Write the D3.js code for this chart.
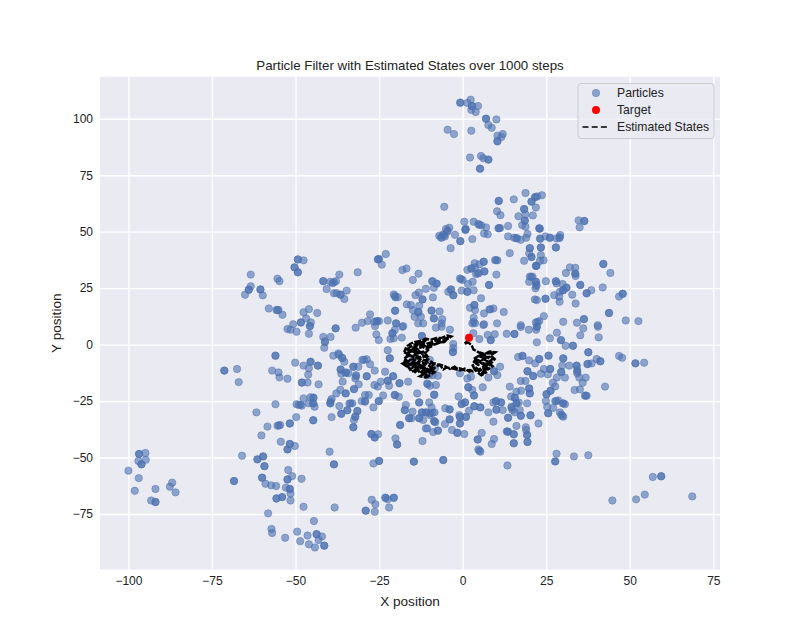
<!DOCTYPE html>
<html>
<head>
<meta charset="utf-8">
<script src="https://cdnjs.cloudflare.com/ajax/libs/d3/7.8.5/d3.min.js"></script>
<style>
	html, body { margin: 0; padding: 0; background: #fff; }
	svg { display: block; }
	text { font-family: "Liberation Sans", Arial, sans-serif; fill: #222; }
</style>
</head>
<body>
<script>
const xTicks = [-100, -75, -50, -25, 0, 25, 50, 75];
const yTicks = [-75, -50, -25, 0, 25, 50, 75, 100];
const xDomain = [-108.5, 77];
const yDomain = [-99.6, 118.55];
const target = [[1.9, 3]];
const legendLabels = ["Particles", "Target", "Estimated States"];

const particles = [
	[-49.3,37.7],[-47.6,37.3],[-50.3,34.2],[-49.3,32],[-63.4,31],[-55.4,29.2],[-54.8,28.1],[-63.4,25.8],[-64,24.3],[-60.5,24.4],
	[-65.1,22.1],[-59.8,21.8],[-58,16],[-55.7,15.3],[-55.1,15.3],[-53.9,13.2],[-47.6,14.3],[-46,15.7],[-43.5,14],[-46.8,11.6],
	[-48.4,9.8],[-45.4,9.8],[-50.7,9],[-41.7,28.1],[-39.6,27.8],[-37.9,28.1],[-38.9,27.2],[-36.9,31],[-40.7,24.6],[-38.5,22.7],
	[-37.7,22.8],[-36.5,22.1],[-34.7,23.9],[-35.4,20.2],[-31.4,32],[-25.4,37.7],[-25,37.9],[-23,40.1],[-24.2,35.4],[-18,33],
	[-16.8,33.7],[-20.6,22.2],[-20.1,20.9],[-19.4,21],[-16.7,17.8],[-20.2,15],[-27.7,13.4],[-30.1,9.7],[-28.4,10.4],[-26.5,10.1],
	[-25.8,10.4],[-25,10.4],[-22.4,10.7],[-19.9,9.4],
	[-0.7,107.1],[1.4,107],[2.4,108.4],[2.8,105.6],[4.6,105.6],[2.6,103.9],[3.9,103],[7,100],[10.1,99.7],[7.7,97.2],
	[8.7,96],[-4.5,95.1],[-2.6,93.2],[2.6,94.7],[12,93.2],[10.4,92.5],[11.6,91.9],[10.4,90],[2.2,82.8],[5.5,83.5],
	[6.2,82.5],[7.7,81.9],[5.2,77.9],[18.8,67.1],[21.7,65.3],[22.3,65.6],[23.7,66.1],[20.6,63.3],[21.9,60.7],[15.3,64.3],
	[10.8,63.6],[-5.5,61],[18.4,60],[10.3,59],[11.3,57.3],[16.7,56.8],[18.8,57.6],[18.6,54.9],[21,57.2],[17.8,52.9],
	[18.8,52.2],[34.7,55],[36.4,54.7],[35,51.9],[0.5,54.4],[3.3,54.4],[4.7,53.4],[5.6,52.8],[7,51.9],[0.9,51.2],
	[0.8,50.7],[10.7,51.5],[11.2,51.6],[13.6,52.5],[22.9,51.5],[23.1,51.3],[-4,51.7],[-5,51.2],[-4.6,50],[-5.8,48.8],
	[-7,48.2],[-6.3,47.3],[-5.3,47.9],[-2.3,48.6],[-0.7,45.8],[2.9,46.7],[6.4,49.2],[7.5,48.8],[13.6,47.9],[15.4,47.3],
	[16.3,47],[17.4,46.4],[19.4,49],[19,47.3],[23.2,46.9],[24.8,47.9],[26.1,47.3],[28.1,47],[29.2,48.5],[29,47.2],
	[27.9,43],[-3.6,42.7],[20.1,42.7],[23.4,43],[14.1,40.5],[19.9,40.4],[20.6,38.8],[23.4,39.6],[23.1,37],[24.2,37.3],
	[18.4,37.1],[9.7,37.4],[10.4,37.3],[6.3,36.7],[3.6,36],[5,35.5],[1.4,33.1],[2.6,33.7],[3.7,34.2],[4,31.2],
	[4.9,31.7],[6.5,32.4],[10.1,31],[22.1,34.9],[21.9,34.8],[30.9,31.7],[32.1,34.2],[33.7,34],[33.7,31.4],[33.8,30.4],
	[42.1,35.7],[44.2,31.7],[-0.8,29.3],[0,28.6],[3,27.8],[1.6,26.8],[7.9,26.4],[20.1,30.1],[20.9,30.1],[19.9,27.8],
	[21.9,27.8],[22.1,26.4],[21.8,24.9],[24.9,28.1],[27.9,28.1],[28.1,27.1],[29.9,26.8],[31.1,25.2],[30.1,24.1],[29.1,23.4],
	[35.2,26.4],[38.5,24.1],[41.9,25.3],[37.1,22.7],[47.9,22.5],[46.8,21.3],[32.8,22.1],[27.4,21.9],[28.9,21.2],[29,19],
	[33.8,18.2],[-9.1,28.1],[-7.8,27],[-8.6,25.2],[-13.2,31.4],[-14.9,28.6],[-11,24.7],[-13.1,23.1],[-14.1,21.9],[-8.9,20.9],
	[-12,20],[-3.5,24.4],[-4.3,23.4],[-2.8,21.9],[-0.3,23.9],[1.4,23.4],[3.3,24.1],[5.5,20.5],[2.2,16.3],[3.5,17.5],
	[3.7,15.3],[6.4,13.8],[8,15.6],[9.2,16],[12.3,14.4],[21.6,20],[22.2,19.7],[24.8,20.3],[-15.5,17.5],[-13,17.2],
	[-14.9,15.3],[-13.3,14.3],[-9.3,15.1],[-6.9,14.7],[-14.4,12.3],[-12.5,12.3],[-8.6,11.6],[-6.1,11.2],[-11.8,9.4],[-6.3,9.4],
	[3.3,11.9],[2.9,9.4],[3.7,9.4],[6.4,9],[10.3,9.4],[17.4,8.6],[24.3,12.6],[22.9,10.4],[21.9,9.8],[30.1,10.1],
	[36.3,11.3],[34.2,9.7],[43.8,14],[40.4,8.6],[48.8,10.7],[52.6,10.4],
	[-52.4,6.9],[-51.5,6.6],[-49.7,5.7],[-46,4.8],[-45.7,8.2],[-38,7.2],[-32,7.5],[-25.8,4.5],[-25.1,2],[-26.2,8.2],
	[-20.3,6.5],[-21,5],[-21.6,2.5],[-20.6,2.8],[-18.2,3.1],[-18,7.9],[-41.7,3.4],[-39.5,3.4],[-41.2,1],[-41.4,-1.4],
	[-22.4,-2.5],[-21.8,-6.1],[-56,-4.9],[-38.7,-4.9],[-37.2,-3.9],[-36.1,-5.8],[-35.4,-7.6],[-30,-6.8],[-28.7,-6.5],[-27.7,-8.7],
	[-50.1,-8],[-47.6,-9.3],[-45.5,-7.6],[-46,-10.5],[-43.3,-9.3],[-36.5,-11],[-36.3,-12.9],[-34.9,-12.3],[-34.2,-12.7],[-32.7,-9.8],
	[-31.2,-9.8],[-31.9,-13.5],[-32.1,-15],[-28.7,-14],[-26.3,-11.5],[-23.2,-12],[-20.8,-14],[-22.4,-16],[-22,-18.2],[-18.9,-17.1],
	[-26.4,-17.9],[-25.4,-18.6],[-24.5,-16.4],[-71.3,-11.5],[-67.5,-10.8],[-67,-16.6],[-57,-11.5],[-55.1,-12.3],[-54.8,-14.5],[-52.4,-15.1],
	[-46.2,-13.3],[-48.1,-16.8],[-46.4,-16.8],[-43.1,-17.6],[-35.9,-16.4],[-31.1,-17.6],[-32.5,-19.7],[-36.6,-20],[-37.8,-21.6],[-35,-21.6],
	[-39.2,-24.1],[-39.6,-26],[-47.6,-23.8],[-45.5,-23.3],[-44.6,-23.5],[-44.7,-26],[-46,-26],[-49.7,-26.4],[-49,-26.7],[-48.1,-27],
	[-44.3,-27.5],[-56,-26.4],[-61.7,-30],[-36.9,-27.2],[-33.9,-26.1],[-33,-26],[-34.5,-29.1],[-36.3,-30.6],[-31.5,-29.4],[-32.1,-31.9],
	[-32.5,-33.4],[-32.7,-36.6],[-39.2,-32.1],[-29.2,-22.3],[-28.1,-22.3],[-30.2,-25],[-29.2,-25.3],[-25.1,-25],[-23.8,-22.5],[-26.7,-27.8],
	[-20.3,-22.3],[-19.1,-23.1],[-17,-26.7],[-17.3,-29],[-16,-32.6],[-18.7,-35.6],[-49.8,-32.1],[-44.7,-33.5],[-51.7,-34.9],[-54.6,-35.6],
	[-55.4,-35.9],[-58.4,-36.3],[-60.2,-40.2],[-54.4,-43],[-51.7,-44],[-50.2,-44.9],[-52.4,-46.4],[-39.8,-47.4],[-38.5,-53],[-27.3,-39.6],
	[-26.3,-41.1],[-25.3,-39.7],[-20.1,-41.5],[-19.6,-44.2],[-66,-49.2],[-61.4,-50.8],[-59.7,-49.5],[-59.3,-53.8],[-26.7,-52.6],[-25,-51.5],
	[-52.2,-55.5],[-51,-58.2],[-48.2,-59.4],[-52.4,-59.7],[-60,-58.9],[-68.4,-60.4],[-59,-61.6],[-57.3,-62.3],[-55.8,-62.6],[-52.9,-63.3],
	[-51.7,-63.9],[-51.5,-65.9],[-55.7,-68.1],[-54,-67.5],[-51.5,-69],[-47.6,-71.8],[-38.3,-72.1],[-27.2,-68.7],[-26.1,-70.7],[-23.1,-67.8],
	[-22.4,-68.5],[-20.6,-67.8],[-22,-72.1],[-29,-73.5],[-26.3,-74],[-58.2,-74.7],[-44.5,-78.1],[-57.2,-81.6],[-57,-83.4],[-49.5,-82.8],
	[-46.4,-84.5],[-43.7,-83.9],[-42.1,-84.9],[-43.1,-86.5],[-48.6,-87],[-53.1,-85.5],[-46,-88.4],[-44.2,-89.8],[-41.4,-89],[-96.8,-48.4],
	[-94.9,-48],[-97,-51.5],[-94.8,-51],[-96.1,-53],[-100,-55.8],[-96.9,-59.1],[-86.9,-61.1],[-87.6,-62.9],[-85.9,-65.4],[-91.9,-63.9],
	[-98.1,-64.7],[-93.2,-69],[-91.9,-69.7],
	[-12.2,3.8],[-8,7.5],[-6.3,7.9],[-3.8,6.6],[-2.8,0.3],[-2.9,-3.3],[5,2.5],[7.5,4.3],[9.6,4.6],[8.4,2],
	[13.2,4.8],[15.5,4.7],[19.8,6.6],[22.2,7.9],[17.4,7.8],[22,6.6],[26.1,2.8],[28.2,5.3],[29.4,2],[30.8,-0.5],
	[33,-0.5],[35.2,4.1],[36.1,7.2],[40.5,7.9],[40.7,3.2],[22.2,1],[37.6,-3.4],[46.8,-5],[47.7,-5.8],[51.7,-8.3],
	[54.3,-8],[16.6,-5.5],[17.9,-5],[19.9,-7],[22.9,-6.4],[21.7,-8.3],[25.7,-4.9],[30.1,-6.1],[29.8,-9.3],[31.9,-9.3],
	[34.1,-9.3],[37.3,-8.7],[38.6,-8.3],[40.1,-6.4],[41.2,-7.4],[24.3,-10.8],[26.2,-10.8],[19.4,-11.8],[21.1,-13.9],[23.4,-12.9],
	[25.5,-13.2],[29.5,-12.1],[34.3,-11.2],[34.3,-12.7],[34.9,-14.6],[36.8,-14.6],[35.9,-16.9],[30.6,-14.6],[28.2,-14.6],[27,-16.9],
	[27.7,-18.5],[42.6,-18.6],[33.5,-20.1],[35.1,-19.8],[36.6,-22.6],[37.1,-22.6],[26.3,-20.4],[25.1,-22],[17.4,-16.1],[18.8,-16.1],
	[19.9,-19.4],[20.1,-21.6],[17.5,-20.4],[16.1,-20.8],[14.1,-18.6],[11.2,-9.8],[9.4,-11.8],[10.4,-13.5],[7.7,-14.6],[1.4,-15],
	[2.5,-14.2],[-0.8,-12.7],[1.7,-18.9],[2.9,-20.1],[3.4,-22.5],[6,-18.9],[-1.2,-23],[-0.3,-26.3],[0.7,-25.6],[3.5,-27.3],
	[5.3,-27.8],[1.9,-29.3],[7.7,-30],[9.2,-25.6],[10,-25],[11.5,-25.6],[12,-29],[10.1,-28.8],[14.5,-23],[15.6,-23.5],
	[16.1,-26],[16.8,-25.6],[14.6,-27.5],[14.9,-29],[13.6,-32.4],[17.1,-29],[17.4,-31.5],[15.6,-30],[19.3,-26],[20.3,-31.3],
	[22.7,-34.9],[9.2,-34.1],[16.1,-36],[18.9,-36.6],[19,-37.8],[19.3,-40],[19.4,-43.1],[15.3,-43.7],[15.3,-39.7],[13.2,-38.4],
	[13.6,-38.6],[9.4,-41.8],[8.7,-44],[4.5,-42],[5.7,-39.1],[4.7,-46.4],[5.3,-47.4],[0.5,-39.6],[-1.6,-39.1],[-3.2,-37.8],
	[-7.4,-38.1],[-8.8,-38.7],[-11,-37.1],[-12,-42.7],[-5.3,-35.2],[-3.9,-33.1],[-0.8,-32],[-0.8,-34.9],[1,-32],[-1,-31.2],
	[-5.2,-28.2],[-3.9,-28.7],[-8.5,-22.2],[-13,-25.6],[-13.6,-21.6],[-10,-25.6],[-9.3,-27.8],[-10.8,-13.5],[-7.4,-13.8],[-10,-13.5],
	[-8,-17.9],[-10.6,-17.2],[-9.8,-18.2],[-8.4,-30],[-9.8,-30.4],[-12.2,-30],[-11,-30],[-13,-32.6],[-11.8,-33.4],[-9.8,-31.2],
	[-8.6,-33.8],[-8.2,-34.4],[-10.6,-37.1],[-15,-29.7],[-15.3,-32.6],[25.6,-30.4],[24.9,-25],[27.7,-25],[28.6,-24.7],[30.1,-26],
	[30.6,-26.4],[25.3,-27.5],[27.1,-28],[29.1,-30],[29.8,-31.5],[30.1,-31.9],[28.1,-48.3],[27.7,-51.7],[33.3,-49.5],[37.6,-49],
	[-5.8,-51.1],[-14.6,-51.8],[13.4,-53.5],[44.8,-69],[51.9,-68.5],[54.5,-66.4],[68.7,-67.2],[56.9,-58.6],[59.4,-58.3],
	[-17.8,8.2],[-13.3,9.4],[-9.8,-6.8],[-15.8,-8.3],[-8.3,-10.5],[-14.8,-6.1],[-16.3,-16.4],[-2.8,-1.5],[3.2,5],[6.2,8.7]
];

// darker dots in the picture are two particles almost on top of each other
const overlapped = [
	[-49.3,37.7],[-50.3,34.2],[-49.3,32],[-64,24.3],[-60.5,24.4],[-55.4,15.3],[-41.7,28.1],[-38.5,27.6],[-36.5,22.1],[-25.2,37.8],
	[-20.3,21.5],[-20.2,15],[-25.5,10.4],[-48.4,9.8],[-19.9,9.4],
	[-0.7,107.1],[2.8,105.6],[7,100],[10.4,90],[5.2,77.9],[7.7,81.9],[21.7,65.3],[20.6,63.3],[10.8,63.6],[18.4,60],
	[18.6,54.9],[36.4,54.7],[5,53],[0.9,51],[10.9,51.5],[23,51.4],[-4.5,50.5],[-5.5,48.5],[-6.5,47.5],[-0.7,45.8],
	[16,47.2],[23.2,46.9],[26.1,47.3],[29,47.5],[27.9,43],[20.1,42.7],[23.4,43],[20.6,38.8],[10,37.4],[6.3,36.7],
	[2.6,33.7],[4.5,31.5],[6.5,32.4],[22,34.9],[33.7,31.5],[42.1,35.7],[-0.5,29],[7.9,26.4],[20.5,30],[21.9,27.8],
	[22,26],[27.9,28],[31,25.2],[30,24],[35.2,26.4],[37.1,22.7],[47.9,22.5],[-9,28],[-7.8,27],[-12,20],
	[-3.5,24.4],[-2.8,21.9],[1.4,23.4],[3.5,17.5],[8.3,15.6],[24.8,20.3],[-13.2,14.5],[-9.3,15],[-8.6,11.6],[3.3,10],
	[22.4,10],[36.3,11.3],[43.8,14],
	[-45.7,8.2],[-38,7.2],[-21,5],[-41.2,1.5],[-21.8,-6],[-56,-4.9],[-37,-4.5],[-36,-6],[-29.5,-6.7],[-45.5,-7.6],
	[-43.3,-9.3],[-36.5,-11],[-35,-12.5],[-32.7,-9.8],[-31.9,-14],[-28.7,-14],[-22.4,-16],[-20.8,-14],[-18.9,-17.1],[-71.3,-11.5],
	[-48.1,-16.8],[-32.5,-19.7],[-35,-21.6],[-39.5,-25],[-39.6,-26],[-44.7,-23.5],[-44.7,-26],[-48.5,-26.6],[-33.5,-26],[-36.3,-30.6],
	[-34.5,-29],[-31.5,-29.4],[-32.1,-31.9],[-32.7,-36.6],[-29.2,-25],[-25.1,-25],[-20.3,-22.3],[-17.3,-29],[-16,-32.6],[-18.7,-35.6],
	[-44.7,-33.5],[-51.7,-34.9],[-55,-35.8],[-51.7,-44],[-52.4,-46.4],[-38.5,-53],[-27.3,-39.6],[-26.3,-41.1],[-19.6,-44.2],[-61.4,-50.8],
	[-59.7,-49.5],[-59.3,-53.8],[-25,-51.5],[-52.4,-59.7],[-60,-58.9],[-68.4,-60.4],[-51.7,-63.9],[-55.7,-68.1],[-54,-67.5],[-29,-73.5],
	[-23.1,-67.8],[-20.6,-67.8],[-43.7,-83.9],[-41.4,-89],[-96.8,-48.4],[-96.1,-53],[-91.9,-69.7],
	[-12.2,3.8],[-2.9,-3.3],[8.4,2],[15.5,4.7],[22.2,7.9],[29.4,2],[33,-0.5],[37.6,-3.4],[51.7,-8.3],[17.9,-5],
	[22.9,-6.4],[25.7,-4.9],[30.1,-6.1],[34.1,-9.3],[37.5,-8.5],[41.2,-7.4],[26.2,-10.8],[19.4,-11.8],[21.1,-13.9],[29.5,-12.1],
	[34.3,-12],[36.8,-22.6],[25.1,-22],[26.3,-20.4],[19.9,-19.4],[20.1,-21.6],[9.4,-11.8],[1.7,-18.9],[3.4,-22.5],[-0.3,-26.3],
	[0.7,-25.6],[3.5,-27.3],[5.3,-27.8],[10,-25],[11.5,-25.6],[10.1,-28.8],[15.6,-23.5],[16.1,-26],[14.6,-28],[13.6,-32.4],
	[17.4,-31.5],[20.3,-31.3],[19.3,-40],[19.4,-43.1],[15.3,-43.7],[15.3,-39.7],[13.4,-38.5],[4.5,-42],[5,-47],[-1.6,-39],
	[-7.4,-38],[-3.9,-33.1],[-0.8,-32],[-0.8,-34.9],[1,-32],[-3.9,-28.7],[-8.5,-22.2],[-13,-25.6],[-10.5,-17.5],[-9,-13.6],
	[-11,-30],[-9,-30.2],[-12.2,-30],[-8.4,-34],[-13,-32.6],[25.6,-30.4],[28,-25],[30,-26],[29.5,-31],[27.7,-51.7],
	[-5.8,-51.1],[-14.6,-51.8],[59.4,-58.3]
];

const estimatedStates = [
	[1.9,2.8],[1,0.9],[0.4,0.3],[1.7,0.9],[2.7,-0.2],[3.2,-2.1],[4.4,-3.1],[5.4,-3.9],[5,-5.6],[6.2,-4.6],
	[7.7,-3.9],[8.7,-3.6],[8.2,-5.3],[7.2,-5.6],[6.2,-6.5],[7.7,-7.6],[6.7,-8.3],[8.2,-9],[7.2,-9.8],[5.7,-7.6],
	[4,-6.5],[3.4,-7.6],[4.7,-9],[4,-10.5],[5.2,-11.2],[6.2,-12.7],[5.2,-13.5],[6.7,-11.2],[7.7,-10.5],[6.2,-9.8],
	[4.7,-11.2],[3.2,-12],[2.2,-11.2],[0.7,-11.5],[-0.8,-10.5],[-1.8,-11],[-3.3,-10.5],[-4.8,-10.1],[-5.8,-11],[-6.8,-9],
	[-8.3,-8.3],[-9.3,-9.8],[-8.8,-11],[-10.3,-12],[-11.8,-11.2],[-12.8,-12.7],[-13.3,-11.2],[-14.8,-9.8],[-13.8,-8.3],[-15.8,-9],
	[-16.8,-7.6],[-17.3,-9],[-15.8,-6.8],[-14.3,-6.1],[-15.8,-4.6],[-16.8,-3.9],[-15.3,-3.1],[-16.3,-1.7],[-14.8,-0.2],[-13.3,0.6],
	[-11.8,0.3],[-12.8,-1.7],[-14.3,-2.4],[-13.3,-3.9],[-11.8,-3.1],[-10.8,-4.6],[-12.3,-6.1],[-13.3,-7.6],[-11.8,-8.3],[-10.3,-7.6],
	[-11.3,-9],[-12.8,-9.8],[-14.3,-11.2],[-12.8,-9],[-14.8,-7.6],[-13.3,-5.3],[-14.8,-3.9],[-13.8,-1.7],[-11.8,-0.9],[-10.3,0.6],
	[-8.8,1.3],[-7.3,2.3],[-5.8,2],[-4.3,3.2],[-5.3,1.3],[-6.8,0.9],[-8.8,-0.2],[-10.8,-0.9],[-10.3,-2.4],[-11.8,-4.6],
	[-13.3,-2.4],[-14.8,-1.7],[-15.8,-3.1],[-16.8,-5.3],[-17.6,-8.3],[-16.3,-9.8],[-15.3,-12],[-13.8,-11],[-12.3,-9.8],[-10.8,-11.2],
	[-12.3,-13],[-11.3,-11.5],[-12.6,-12],[-11,-13.5],[-9.8,-12.4],[-10.6,-10.8],[-9.2,-10.2],[-10.4,-9],[-9,-8],[-10.2,-6.6],
	[-11.6,-7],[-10.6,-5.4],[-12,-5],[-13.4,-6.2],[-14.6,-5],[-13.6,-3.4],[-15.4,-2.4],[-16.8,-2.8],[-15.6,-0.8],[-14,-1],
	[-13,0.8],[-11.4,1.4],[-12.6,-0.4],[-11,-1.8],[-9.6,-1],[-10.2,0.4],[-8.4,0.2],[-7.2,1.6],[-6,0.6],[-4.8,2.2],
	[-3.4,3.6],[-4.6,4],[-6.2,3],[-7.8,3],[-9.4,2.2],[-11,2.6],[-12.4,1.8],[-14.2,1.2],[-15.6,0.4],[-16.8,-0.8],
	[-17.4,-3],[-16.2,-5],[-17.6,-6.2],[-16.4,-7.4],[-18,-8.4],[-16.8,-9.6],[-15.2,-8.2],[-14,-9.4],[-15.4,-10.6],[-14.2,-12.2],
	[-13,-10.6],[-11.6,-10],[-10.2,-11],[-11.4,-12.8],[-12.8,-14],[-11,-14.6],[-9.6,-13.4],[-8.4,-12.2],[-9.8,-11.2],[-8,-10],
	[-6.8,-8.8],[-5.2,-9.6],[-3.8,-10.8],[-2.4,-9.8],[-0.8,-11.4],[0.6,-10.6],[2,-12],[3.6,-11],[3,-9.2],[4.4,-8],
	[3.2,-6.4],[4.8,-5],[6.4,-6],[5.2,-7.8],[6.8,-9.4],[8.6,-8.2],[9.6,-6.4],[8.4,-4.8],[9.8,-3.4],[8,-3],
	[6.6,-4.2],[5.2,-3.4],[7,-5.4],[8.8,-6.6],[7.4,-8],[9,-9.6],[7.6,-11],[6,-10.2],[7,-12.4],[5.6,-13.6],
	[4.4,-12.2],[5.8,-11]
];

const width = 800;
const height = 640;
const margin = { top: 76.8, right: 80, bottom: 70.4, left: 100 };

const svg = d3.select("body").append("svg")
	.attr("width", width)
	.attr("height", height);

const xScale = d3.scaleLinear().domain(xDomain).range([margin.left, width - margin.right]);
const yScale = d3.scaleLinear().domain(yDomain).range([height - margin.bottom, margin.top]);
const tickFormat = (d) => String(d).replace("-", "\u2212");

svg.append("rect")
	.attr("x", margin.left)
	.attr("y", margin.top)
	.attr("width", width - margin.left - margin.right)
	.attr("height", height - margin.top - margin.bottom)
	.attr("fill", "#eaeaf2");

// grid lines come from the axis ticks
const xAxis = svg.append("g")
	.attr("transform", `translate(0, ${height - margin.bottom})`)
	.call(d3.axisBottom(xScale).tickValues(xTicks).tickFormat(tickFormat)
		.tickSize(-(height - margin.top - margin.bottom)).tickPadding(7));
const yAxis = svg.append("g")
	.attr("transform", `translate(${margin.left}, 0)`)
	.call(d3.axisLeft(yScale).tickValues(yTicks).tickFormat(tickFormat)
		.tickSize(-(width - margin.left - margin.right)).tickPadding(7));

[xAxis, yAxis].forEach((axis) => {
	axis.select(".domain").remove();
	axis.selectAll("line").attr("stroke", "#fff").attr("stroke-width", 1.4);
	axis.selectAll("text").attr("font-size", 12).attr("fill", "#222")
		.attr("font-family", '"Liberation Sans", Arial, sans-serif');
});

const particleStyle = (sel) => sel
	.attr("r", 3.7)
	.attr("fill", "#4c72b0")
	.attr("fill-opacity", 0.6)
	.attr("stroke", "#4c72b0")
	.attr("stroke-opacity", 0.45)
	.attr("stroke-width", 1);

svg.append("g").selectAll("circle")
	.data(particles.concat(overlapped))
	.enter()
	.append("circle")
	.attr("cx", (d) => xScale(d[0]))
	.attr("cy", (d) => yScale(d[1]))
	.call(particleStyle);

const line = d3.line().x((d) => xScale(d[0])).y((d) => yScale(d[1]));

svg.append("path")
	.attr("d", line(estimatedStates))
	.attr("fill", "none")
	.attr("stroke", "#000")
	.attr("stroke-width", 2.4)
	.attr("stroke-dasharray", "7,1.4");

svg.selectAll(".target")
	.data(target)
	.enter()
	.append("circle")
	.attr("class", "target")
	.attr("cx", (d) => xScale(d[0]))
	.attr("cy", (d) => yScale(d[1]))
	.attr("r", 4)
	.attr("fill", "#f00");

svg.append("text")
	.attr("x", (margin.left + width - margin.right) / 2)
	.attr("y", 69.5)
	.attr("text-anchor", "middle")
	.attr("font-size", 13.3)
	.text("Particle Filter with Estimated States over 1000 steps");

svg.append("text")
	.attr("x", (margin.left + width - margin.right) / 2)
	.attr("y", 605.5)
	.attr("text-anchor", "middle")
	.attr("font-size", 13.6)
	.text("X position");

svg.append("text")
	.attr("transform", `translate(61, ${(margin.top + height - margin.bottom) / 2}) rotate(-90)`)
	.attr("text-anchor", "middle")
	.attr("font-size", 13.6)
	.text("Y position");

// legend
const legend = svg.append("g").attr("transform", "translate(578, 83.5)");
legend.append("rect")
	.attr("width", 136)
	.attr("height", 55)
	.attr("rx", 3)
	.attr("fill", "#eaeaf2")
	.attr("fill-opacity", 0.8)
	.attr("stroke", "#cccccc")
	.attr("stroke-width", 1);

const legendY = d3.scalePoint().domain(legendLabels).range([9.5, 43.5]);

legend.selectAll("text")
	.data(legendLabels)
	.enter()
	.append("text")
	.attr("x", 39)
	.attr("y", (d) => legendY(d) + 4)
	.attr("font-size", 12.2)
	.text((d) => d);

legend.append("circle")
	.attr("cx", 18)
	.attr("cy", legendY(legendLabels[0]))
	.call(particleStyle);
legend.append("circle")
	.attr("cx", 18)
	.attr("cy", legendY(legendLabels[1]))
	.attr("r", 4)
	.attr("fill", "#f00");
legend.append("line")
	.attr("x1", 4.5)
	.attr("x2", 29)
	.attr("y1", legendY(legendLabels[2]))
	.attr("y2", legendY(legendLabels[2]))
	.attr("stroke", "#000")
	.attr("stroke-width", 1.7)
	.attr("stroke-dasharray", "6,3.2");
</script>
</body>
</html>
